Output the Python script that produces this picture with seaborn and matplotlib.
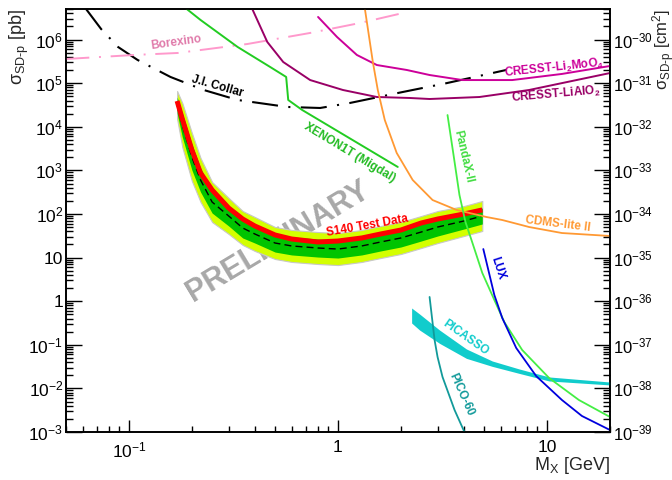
import numpy as np
import pandas as pd
import seaborn as sns
import matplotlib
matplotlib.use('Agg')
import matplotlib.pyplot as plt
from matplotlib.ticker import LogLocator, FuncFormatter, NullFormatter

# ---- data (pb vs GeV) ----
s140_mass = [0.17, 0.18, 0.2, 0.22, 0.25, 0.3, 0.35, 0.4, 0.5, 0.6, 0.8, 1.0,
             1.3, 1.6, 2.0, 2.5, 3.0, 4.0, 4.9]
s140_obs = [3.91e4, 1.51e4, 2.94e3, 872, 355, 137, 76.8, 53.1, 33.0, 26.7, 22.8, 24.0,
            28.2, 34.8, 42.9, 62.2, 76.8, 100, 124]
s140_exp = [3.16e4, 1.10e4, 2.03e3, 603, 188, 90.0, 47.8, 34.8, 21.6, 18.5, 16.6, 15.7,
            18.5, 22.8, 28.2, 38.6, 50.3, 69.0, 90.0]
s140_1s_hi = [4.82e4, 2.07e4, 4.03e3, 1.14e3, 336, 153, 81.1, 56.0, 34.8, 29.8, 26.7, 25.3,
              29.8, 36.7, 45.4, 62.1, 80.9, 105, 137]
s140_1s_lo = [2.07e4, 5.84e3, 1.02e3, 320, 105, 53.1, 28.2, 21.6, 13.4, 11.5, 10.3, 9.76,
              11.5, 14.2, 17.5, 24.0, 31.3, 45.2, 59.0]
s140_2s_hi = [6.62e4, 3.52e4, 7.21e3, 1.93e3, 541, 233, 117, 85.4, 50.3, 43.1, 38.6, 36.5,
              43.1, 53.1, 65.6, 89.9, 117, 152, 199]
s140_2s_lo = [1.51e4, 3.44e3, 572, 189, 65.3, 34.8, 19.5, 14.2, 9.28, 7.95, 7.13, 6.74,
              7.95, 9.79, 12.1, 16.6, 21.6, 31.3, 40.8]

collar_mass = [0.0624, 0.0736, 0.0887, 0.110, 0.158, 0.228, 0.331, 0.572, 0.821, 1.141, 2.04, 3.30, 6.38]
collar_xs = [5.0e6, 1.75e6, 6.77e5, 3.41e5, 1.39e5, 6.98e4, 4.12e4, 2.85e4, 2.70e4, 3.52e4, 6.28e4, 1.0e5, 2.01e5]

borexino_mass = [0.05, 0.106, 0.171, 0.369, 0.736, 1.273, 2.15]
borexino_xs = [3.59e5, 4.44e5, 4.93e5, 7.93e5, 1.42e6, 2.40e6, 4.30e6]

xenon_mass = [0.189, 0.220, 0.331, 0.474, 0.565, 0.578, 0.674, 1.931]
xenon_xs = [5.03e6, 2.82e6, 6.77e5, 2.35e5, 1.39e5, 4.12e4, 2.43e4, 1.20e3]

lialo2_mass = [0.389, 0.459, 0.547, 0.736, 1.056, 1.534, 2.203, 2.742, 4.747, 8.204, 20]
lialo2_xs = [5.03e6, 8.81e5, 3.06e5, 1.18e5, 6.98e4, 4.82e4, 4.58e4, 4.34e4, 4.82e4, 6.98e4, 1.71e5]

li2moo4_mass = [0.803, 0.989, 1.231, 1.534, 2.132, 2.742, 3.937, 6.813, 11.78, 20]
li2moo4_xs = [3.30e6, 1.15e6, 4.44e5, 2.61e5, 2.01e5, 1.54e5, 1.18e5, 1.18e5, 1.63e5, 2.48e5]

cdms_mass = [1.345, 1.468, 1.550, 1.674, 1.909, 2.276, 2.834, 3.687, 5.124, 6.105, 8.204, 11.78, 20]
cdms_xs = [5.03e6, 3.06e5, 6.98e4, 1.43e4, 2.51e3, 603, 209, 124, 85.4, 72.8, 50.3, 36.6, 31.3]

pandax_mass = [3.341, 3.57, 3.81, 4.07, 4.35, 4.90, 5.594, 6.242, 7.603, 10.23, 14.20, 20]
pandax_xs = [1.86e4, 2.25e3, 273, 65.6, 25.3, 4.44, 1.07, 0.333, 0.0760, 0.0173, 0.00542, 0.00221]

lux_mass = [4.955, 5.594, 6.105, 7.120, 8.868, 11.78, 14.68, 20]
lux_xs = [15.7, 1.39, 0.412, 0.0845, 0.0192, 0.00542, 0.00233, 0.00111]

pico_mass = [2.742, 2.897, 2.994, 3.162, 3.61, 4.025]
pico_xs = [1.25, 0.129, 0.0525, 0.0183, 0.00320, 0.001]

picasso_mass = [2.250, 2.456, 3.060, 4.115, 5.470, 7.357, 10.23, 20]
picasso_hi = [0.698, 0.508, 0.218, 0.0801, 0.0425, 0.0279, 0.0183, 0.0140]
picasso_lo = [0.316, 0.218, 0.108, 0.0488, 0.0320, 0.0221, 0.0148, 0.0120]

PB_TO_CM2 = 1e-36

sns.set_theme(style='ticks')
plt.rcParams['font.family'] = ['Liberation Sans', 'DejaVu Sans']
plt.rcParams['mathtext.fontset'] = 'custom'
plt.rcParams['mathtext.rm'] = 'Liberation Sans'
plt.rcParams['mathtext.it'] = 'Liberation Sans:italic'
plt.rcParams['mathtext.bf'] = 'Liberation Sans:bold'
plt.rcParams['mathtext.default'] = 'regular'

fig = plt.figure(figsize=(6.72, 4.8), dpi=100)
ax = fig.add_axes([66 / 672, 48 / 480, 544 / 672, 423 / 480])
ax.set_xscale('log')
ax.set_yscale('log')
ax.set_xlim(0.05, 20)
ax.set_ylim(1e-3, 5.03e6)

# S140 brazil band
ax.fill_between(s140_mass, s140_2s_lo, s140_2s_hi, color='#d4ff00', edgecolor='#c8c8c8', lw=0.8, zorder=2)
ax.fill_between(s140_mass, s140_1s_lo, s140_1s_hi, color='#00c400', lw=0, zorder=2.1)
sns.lineplot(x=s140_mass, y=s140_exp, ax=ax, color='black', lw=1.0, estimator=None, sort=False, zorder=3)
ax.lines[-1].set_dashes((5, 3))
sns.lineplot(x=s140_mass, y=s140_obs, ax=ax, color='#ff0000', lw=3.6, estimator=None, sort=False,
             zorder=4, solid_capstyle='butt')

# PICASSO band
ax.fill_between(picasso_mass, picasso_lo, picasso_hi, color='#11cccc', lw=0, zorder=3)

curves = [
    (collar_mass, collar_xs, 'black', 1.5, (12.5, 5, 1, 5)),
    (borexino_mass, borexino_xs, '#ff99cc', 1.4, (12, 5, 1, 5)),
    (xenon_mass, xenon_xs, '#22cc22', 1.4, None),
    (lialo2_mass, lialo2_xs, '#990066', 1.4, None),
    (li2moo4_mass, li2moo4_xs, '#cc0099', 1.4, None),
    (cdms_mass, cdms_xs, '#ff9933', 1.3, None),
    (pandax_mass, pandax_xs, '#44ee44', 1.3, None),
    (lux_mass, lux_xs, '#0000dd', 1.3, None),
    (pico_mass, pico_xs, '#129a9a', 1.3, None),
]
for mx, xs, col, lw, dash in curves:
    sns.lineplot(x=mx, y=xs, ax=ax, color=col, lw=lw, estimator=None, sort=False, zorder=5)
    if dash is not None:
        ax.lines[-1].set_dashes(dash)

# curve labels
lab = dict(fontsize=8.5, fontweight='bold', ha='center', va='center', zorder=6)
ax.text(0.169, 8.46e5, 'Borexino', color='#e07aaa', rotation=8, **lab)
ax.text(0.265, 8.63e4, 'J.I. Collar', color='black', rotation=-16, **lab)
ax.text(1.141, 2.51e3, 'XENON1T (Migdal)', color='#22bb22', rotation=-31, **lab)
ax.text(3.98, 2.03e3, 'PandaX-II', color='#44dd44', rotation=-77, **lab)
ax.text(11.3, 59.0, 'CDMS-lite II', color='#ff9933', rotation=-7, **lab)
ax.text(5.78, 5.77, 'LUX', color='#0000dd', rotation=-72, **lab)
ax.text(4.07, 0.143, 'PICASSO', color='#11cccc', rotation=-35, **lab)
ax.text(3.89, 7.06e-3, 'PICO-60', color='#129a9a', rotation=-66, **lab)
ax.text(10.8, 2.23e5, 'CRESST-Li$_2$MoO$_4$', color='#cc0099', rotation=6, **lab)
ax.text(11.0, 5.36e4, 'CRESST-LiAlO$_2$', color='#990066', rotation=5, **lab)
ax.text(1.374, 53.1, 'S140 Test Data', color='#ff0000', rotation=10, **lab)
ax.text(0.52, 23.0, 'PRELIMINARY', color='#a8a8a8', fontsize=22, fontweight='bold',
        rotation=31, ha='center', va='center', zorder=1)


def pow_label(v, pos):
    e = int(round(np.log10(v)))
    if e == 0:
        return '1'
    if e == 1:
        return '10'
    return '$10^{%d}$' % e


ax.xaxis.set_major_locator(LogLocator(base=10, numticks=20))
ax.xaxis.set_minor_locator(LogLocator(base=10, subs=np.arange(2, 10), numticks=20))
ax.yaxis.set_major_locator(LogLocator(base=10, numticks=20))
ax.yaxis.set_minor_locator(LogLocator(base=10, subs=np.arange(2, 10), numticks=20))
ax.xaxis.set_major_formatter(FuncFormatter(pow_label))
ax.yaxis.set_major_formatter(FuncFormatter(pow_label))
ax.xaxis.set_minor_formatter(NullFormatter())
ax.yaxis.set_minor_formatter(NullFormatter())
ax.tick_params(axis='both', which='both', direction='in', top=False, right=False,
               labelsize=12.5, colors='black', width=1.0)
ax.tick_params(axis='y', which='major', length=11.5, pad=2)
ax.tick_params(axis='y', which='minor', length=5)
ax.tick_params(axis='x', which='major', length=9, pad=6)
ax.tick_params(axis='x', which='minor', length=4.5)

ax2 = ax.twinx()
ax2.set_yscale('log')
ax2.set_ylim(1e-3 * PB_TO_CM2, 5.03e6 * PB_TO_CM2)
ax2.yaxis.set_major_locator(LogLocator(base=10, numticks=20))
ax2.yaxis.set_minor_locator(LogLocator(base=10, subs=np.arange(2, 10), numticks=20))
ax2.yaxis.set_major_formatter(FuncFormatter(lambda v, p: '$10^{%d}$' % int(round(np.log10(v)))))
ax2.yaxis.set_minor_formatter(NullFormatter())
ax2.tick_params(axis='y', which='both', direction='in', labelsize=12, colors='black', width=1.0)
ax2.tick_params(axis='y', which='major', length=11.5, pad=2)
ax2.tick_params(axis='y', which='minor', length=5)

for a in (ax, ax2):
    for s in a.spines.values():
        s.set_color('black')
        s.set_linewidth(1.2)

ax.set_ylabel('σ$_{SD‐p}$ [pb]', fontsize=13, loc='top')
ax.yaxis.set_label_coords(-0.064, 1.0)
ax2.set_ylabel('σ$_{SD‐p}$ [cm$^2$]', fontsize=12, loc='top')
ax2.yaxis.set_label_coords(1.074, 1.0)
ax.set_xlabel('M$_X$ [GeV]', fontsize=13, loc='right')
ax.xaxis.set_label_coords(1.0, -0.055)

fig.savefig('out.png', dpi=100)
